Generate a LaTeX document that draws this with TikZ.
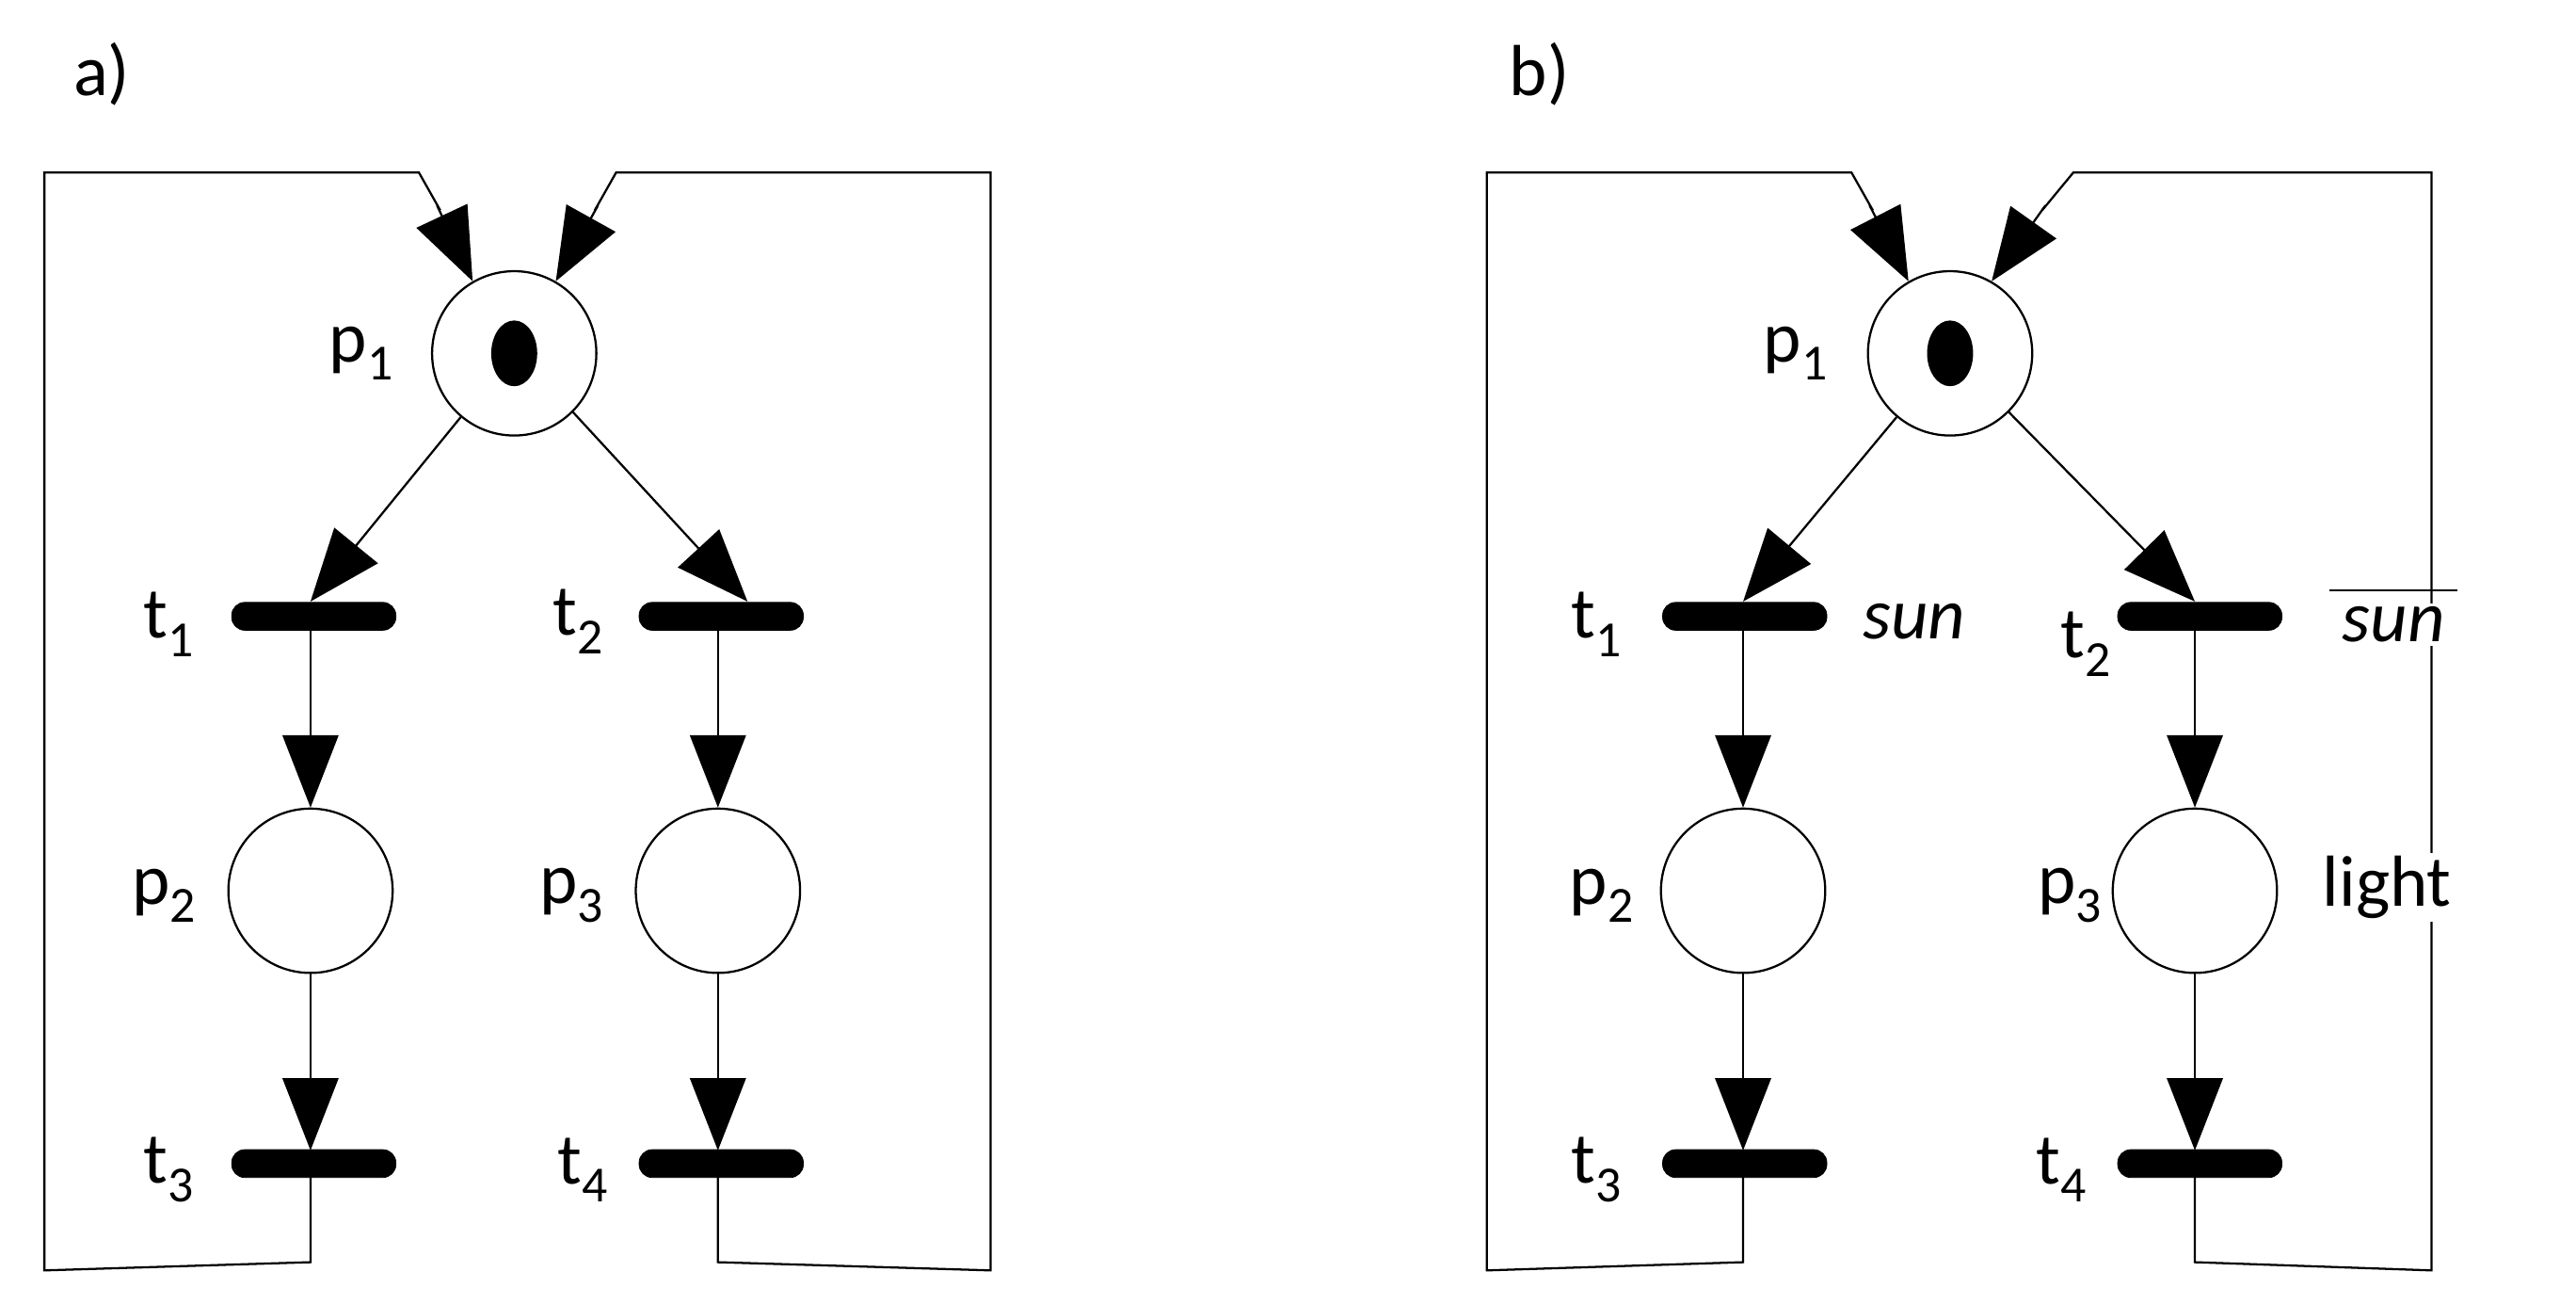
\documentclass[tikz,border=0pt]{standalone}
\usepackage{fontspec}
\setmainfont{Carlito}
\usetikzlibrary{arrows.meta}
\begin{document}
\begin{tikzpicture}[x=1pt,y=-1pt,
  place/.style={circle,draw,line width=1.3pt,minimum size=100pt,inner sep=0pt},
  trans/.style={draw=black,fill=black,rounded corners=8pt,minimum width=100pt,minimum height=17pt,inner sep=0pt},
  lbl/.style={font=\fontsize{44}{50}\selectfont,inner sep=0pt},
  wlbl/.style={lbl,fill=white,inner sep=2pt},
  arc/.style={line width=1.3pt,-{Triangle[length=44pt,width=34pt]}},
  ln/.style={line width=1.3pt}]
\useasboundingbox (0,0) rectangle (1568,793);
\fill[white] (0,0) rectangle (1568,793);
% panel a
\node[lbl] (la) at (62,45) {a)};
\node[place] (ap1) at (313,215) {};
\fill (313,215) ellipse (14pt and 20pt);
\node[trans] (at1) at (191,375) {};
\node[trans] (at2) at (439,375) {};
\node[place] (ap2) at (189,542) {};
\node[place] (ap3) at (437,542) {};
\node[trans] (at3) at (191,708) {};
\node[trans] (at4) at (439,708) {};
\node[lbl] at (220,215) {p\textsubscript{1}};
\node[lbl] at (103,380) {t\textsubscript{1}};
\node[lbl] at (352,378) {t\textsubscript{2}};
\node[lbl] at (100,545) {p\textsubscript{2}};
\node[lbl] at (348,545) {p\textsubscript{3}};
\node[lbl] at (103,712) {t\textsubscript{3}};
\node[lbl] at (355,712) {t\textsubscript{4}};
\draw[arc] (ap1.230) -- (189,366);
\draw[arc] (ap1.315) -- (455,366);
\draw[arc] (189,383) -- (ap2.north);
\draw[arc] (437,383) -- (ap3.north);
\draw[arc] (189,592) -- (189,700);
\draw[arc] (437,592) -- (437,700);
\draw[ln] (189,716) -- (189,768) -- (27,773) -- (27,105) -- (255,105) -- (268,128);
\draw[arc] (266,125) -- (ap1.120);
\draw[ln] (437,716) -- (437,768) -- (603,773) -- (603,105) -- (375,105) -- (362,128);
\draw[arc] (364,125) -- (ap1.60);
% panel b
\node[lbl] (lb) at (937,45) {b)};
\node[place] (bp1) at (1187,215) {};
\fill (1187,215) ellipse (14pt and 20pt);
\node[trans] (bt1) at (1062,375) {};
\node[trans] (bt2) at (1339,375) {};
\node[place] (bp2) at (1061,542) {};
\node[place] (bp3) at (1336,542) {};
\node[trans] (bt3) at (1062,708) {};
\node[trans] (bt4) at (1339,708) {};
\node[lbl] at (1093,215) {p\textsubscript{1}};
\node[lbl] at (972,380) {t\textsubscript{1}};
\node[lbl] at (1270,392) {t\textsubscript{2}};
\node[lbl] at (975,545) {p\textsubscript{2}};
\node[lbl] at (1260,545) {p\textsubscript{3}};
\node[lbl] at (972,712) {t\textsubscript{3}};
\node[lbl] at (1255,712) {t\textsubscript{4}};
\draw[ln] (1336,716) -- (1336,768) -- (1480,773) -- (1480,105) -- (1262,105) -- (1243,128);
\node[lbl] at (1165,378) {\itshape sun};
\node[wlbl] at (1457,380) {\itshape sun};
\draw[ln] (1418,359) -- (1496,359);
\node[wlbl] at (1453,540) {light};
\draw[arc] (bp1.230) -- (1061,366);
\draw[arc] (bp1.315) -- (1336,366);
\draw[arc] (1061,383) -- (bp2.north);
\draw[arc] (1336,383) -- (bp3.north);
\draw[arc] (1061,592) -- (1061,700);
\draw[arc] (1336,592) -- (1336,700);
\draw[ln] (1061,716) -- (1061,768) -- (905,773) -- (905,105) -- (1127,105) -- (1140,128);
\draw[arc] (1138,125) -- (bp1.120);
\draw[arc] (1245,125) -- (bp1.60);
\end{tikzpicture}
\end{document}
